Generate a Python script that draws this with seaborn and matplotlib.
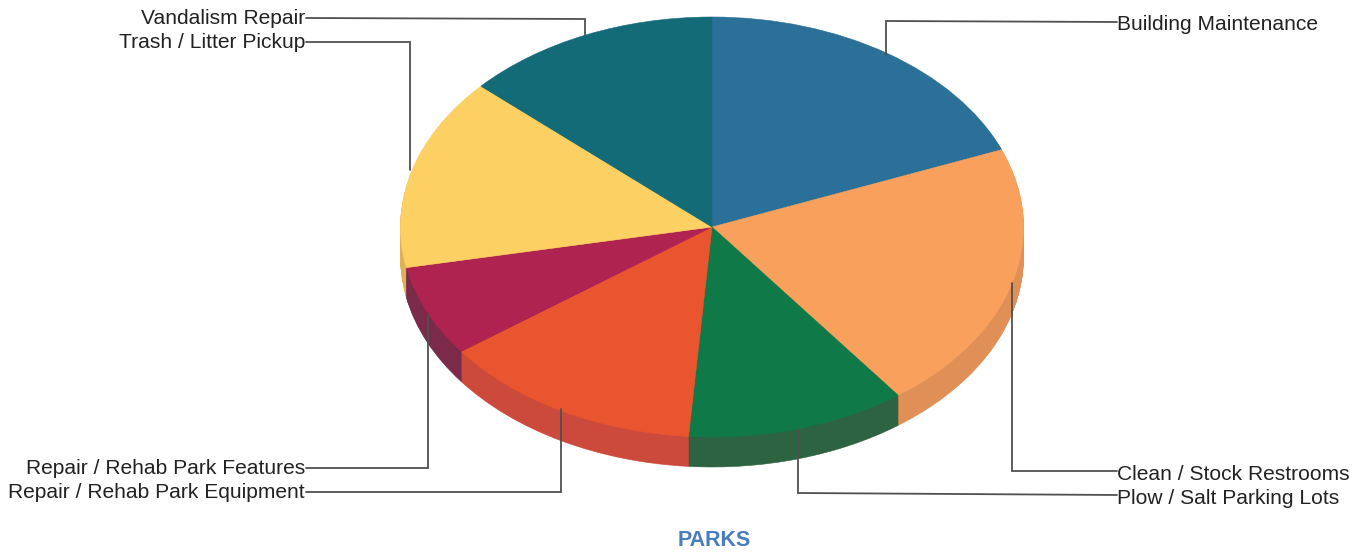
import matplotlib
matplotlib.use("Agg")
import matplotlib.pyplot as plt
from matplotlib.transforms import Affine2D
import seaborn as sns

categories = ["Building Maintenance", "Clean / Stock Restrooms", "Plow / Salt Parking Lots",
              "Repair / Rehab Park Equipment", "Repair / Rehab Park Features",
              "Trash / Litter Pickup", "Vandalism Repair"]
shares = [19.0, 20.8, 11.4, 13.7, 7.0, 14.8, 13.3]
top_hex = ["#2a7098", "#f9a15c", "#0f7a48", "#e9552f", "#ae2350", "#fcd062", "#136b77"]
side_hex = ["#235f82", "#e08f56", "#2d6340", "#cb4a3b", "#7c2a4a", "#e0b055", "#105a65"]
title_text = "PARKS"

# layout, in reference pixels
W, H = 1360, 554
CX, CY, RX, RY, DEPTH = 712, 227, 311.5, 210, 30
leaders = [
    ("r", 24, [(1117, 22), (886, 21), (886, 55)]),
    ("r", 474, [(1117, 471), (1012, 471), (1012, 283)]),
    ("r", 498, [(1117, 495), (798, 493), (798, 430)]),
    ("l", 492.5, [(306, 492), (561, 492), (561, 409)]),
    ("l", 468.5, [(306, 468), (428, 468), (428, 315)]),
    ("l", 42.5, [(306, 42), (410, 42), (410, 170)]),
    ("l", 18.5, [(306, 18), (585, 19), (585, 35)]),
]

sns.set_theme(style="white", rc={"axes.facecolor": "white", "figure.facecolor": "white"})
plt.rcParams["font.family"] = ["Liberation Sans", "DejaVu Sans"]
top_colors = sns.color_palette(top_hex)
side_colors = sns.color_palette(side_hex)

fig = plt.figure(figsize=(W / 100, H / 100), dpi=100)
ax = fig.add_axes([0, 0, 1, 1])

def draw(center_y, colors):
    wedges, _ = ax.pie(shares, colors=colors, startangle=90, counterclock=False,
                       center=(0, center_y), radius=1, frame=True)
    for w in wedges:
        w.set_edgecolor(w.get_facecolor())
        w.set_linewidth(0.4)

for k in range(DEPTH, 0, -1):
    draw(-k / RY, side_colors)
draw(0, top_colors)

ax.set_aspect("auto")
ax.set_xlim(-CX / RX, (W - CX) / RX)
ax.set_ylim((CY - H) / RY, CY / RY)
ax.set_xticks([])
ax.set_yticks([])
for s in ax.spines.values():
    s.set_visible(False)

# pixel space, y down
px = Affine2D().scale(1, -1).translate(0, H)

for name, (side, ty, pts) in zip(categories, leaders):
    xs, ys = zip(*pts)
    ax.plot(xs, ys, color="#505050", lw=1.3, transform=px, zorder=5,
            solid_joinstyle="miter", clip_on=False)
    ax.text(pts[0][0] - (1 if side == "l" else 0), ty, name, transform=px,
            ha="right" if side == "l" else "left", va="center",
            fontsize=15.1, color="#222222", zorder=6)

ax.text(714.5, 540.5, title_text, transform=px, ha="center", va="center",
        fontsize=15.5, fontweight="bold", color="#4a7cc0", zorder=6)

fig.savefig("out.png", dpi=100, facecolor="white")
